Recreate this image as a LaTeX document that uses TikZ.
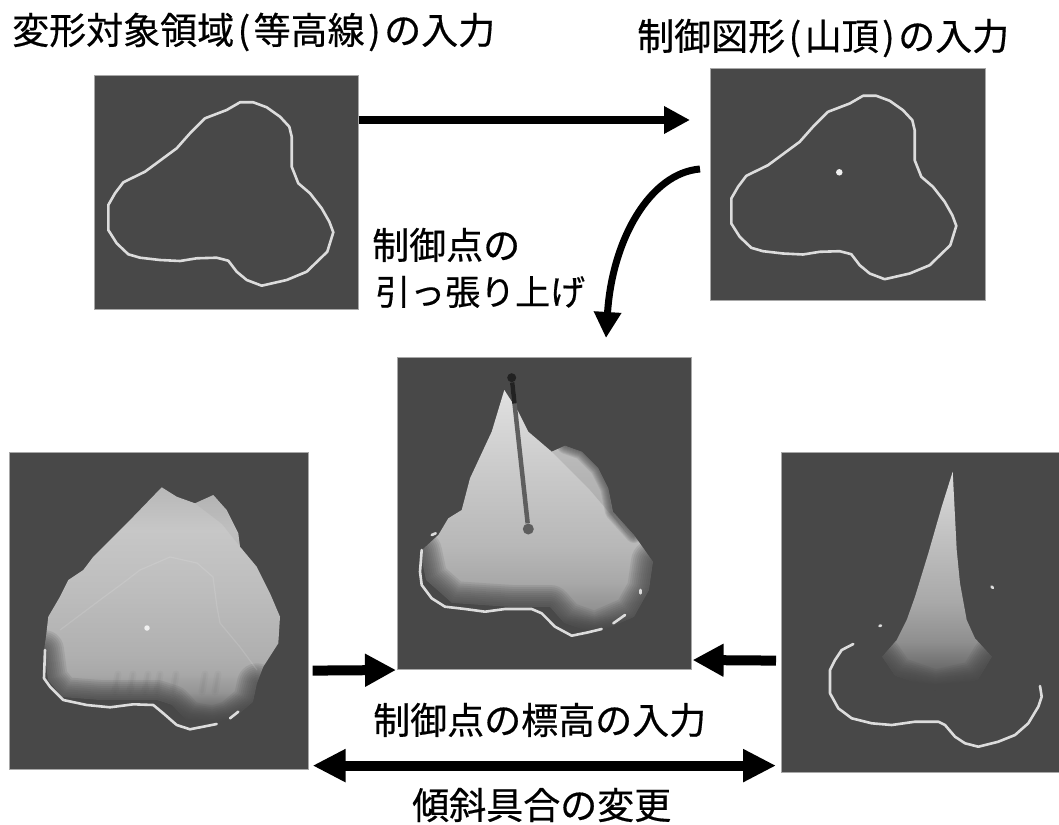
\documentclass[tikz,border=0pt]{standalone}
\usepackage{fontspec}
\newfontfamily\cjk[FakeBold=0.5]{Noto Sans CJK JP}
\usetikzlibrary{positioning,arrows.meta,calc}
\definecolor{panelgray}{HTML}{484848}
\definecolor{panelrim}{HTML}{A8A8A8}
\definecolor{linegray}{HTML}{DCDCDC}
\definecolor{dotwhite}{HTML}{F0F0F0}
\definecolor{rodgray}{HTML}{5E5E5E}
\definecolor{rodtip}{HTML}{222222}
\pgfdeclareverticalshading{pullshade}{100bp}{gray(0bp)=(.28); gray(25bp)=(.28); gray(29bp)=(.55); gray(35.6bp)=(.66); gray(43bp)=(.72); gray(58bp)=(.79); gray(75bp)=(.88); gray(100bp)=(.88)}
\pgfdeclareverticalshading{flatshade}{100bp}{gray(0bp)=(.28); gray(25bp)=(.28); gray(28.6bp)=(.42); gray(32bp)=(.58); gray(36bp)=(.66); gray(40bp)=(.69); gray(53bp)=(.74); gray(66bp)=(.78); gray(75bp)=(.72); gray(100bp)=(.72)}
\pgfdeclareverticalshading{sharpshade}{100bp}{gray(0bp)=(.28); gray(25bp)=(.28); gray(30bp)=(.42); gray(36bp)=(.56); gray(45bp)=(.66); gray(59bp)=(.75); gray(75bp)=(.86); gray(100bp)=(.86)}
% Closed outline, taken from the first panel
\newcommand{\outlinepath}{(240,102.3) -- (253.3,102.3) -- (266.7,107.3) -- (280,116.7) -- (289.3,126.7) -- (291.7,136.7) -- (291.7,166.7) -- (298.3,183.3) -- (310,193.3) -- (321.7,208.3) -- (329.3,221.7) -- (333.3,232.3) -- (327.3,251.7) -- (306.7,271.7) -- (286.7,280) -- (261.7,285.7) -- (246.7,280) -- (236.7,271.7) -- (228.3,260.7) -- (216.7,257.7) -- (196.7,258.3) -- (180,261) -- (160,260) -- (140,257.7) -- (128.3,254.3) -- (116.7,243.3) -- (108.3,230) -- (108.3,205) -- (115,193.3) -- (123.3,182.3) -- (145,171.7) -- (176.7,148.3) -- (190,133.3) -- (205,118.3) -- (226.7,110) -- cycle}
\tikzset{
  panel/.style={fill=panelgray, draw=panelrim, line width=0.6pt, inner sep=0pt, anchor=north west},
  contour/.style={draw=linegray, line width=2.6pt, line join=round, line cap=round},
  soften/.style={panelgray, opacity=.12, line join=round, line cap=round},
  label/.style={font=\cjk\fontsize{37}{46}\selectfont, inner sep=0pt, anchor=base west},
  thinarrow/.style={line width=7pt, -{Stealth[length=26pt, width=26pt, inset=0pt]}},
  fatarrow/.style={line width=10pt, -{Stealth[length=31pt, width=31pt, inset=0pt]}},
  dot/.style={circle, fill=dotwhite, inner sep=0pt, minimum size=#1}
}

\begin{document}
\begin{tikzpicture}[x=1pt, y=-1pt]
  \useasboundingbox (0,0) rectangle (1059,824);

  % Panels
  \node[panel, minimum width=264pt, minimum height=234pt] (outline) at (94,75) {};
  \node[panel, minimum width=275pt, minimum height=232pt] (summit) at (710,68) {};
  \node[panel, minimum width=294pt, minimum height=312pt] (pulled) at (397,357) {};
  \node[panel, minimum width=299pt, minimum height=317pt] (gentle) at (9,452) {};
  \node[panel, minimum width=278pt, minimum height=320pt] (steep) at (781,452) {};

  % Outline inputs
  \draw[contour] \outlinepath;
  \draw[contour, shift={(623,-6.5)}] \outlinepath;
  \node[dot=6.5pt] (peakdot) at (839.3,172.3) {};

  % Pulled surface
  \shade[shading=pullshade] (504.3,390) -- (491.7,431.7) -- (470,478.3) -- (461.7,510) -- (448.3,518.3) -- (438.3,535) -- (420,551.7) -- (426,580) -- (452,603) -- (511.7,607) -- (550,607) -- (564,623) -- (595,634) -- (634,617) -- (649,590) -- (653,561.7) -- (634,535) -- (613,511.7) -- (608.3,488.3) -- (598.3,468.3) -- (581.7,451.7) -- (565,445.7) -- (551.7,451.7) -- (528.3,431.7) -- (518.3,411.7) -- cycle;
  \fill[panelgray, opacity=.15] (551.7,451.7) -- (565,445.7) -- (581.7,451.7) -- (598.3,468.3) -- (608.3,488.3) -- (611.7,511.7) -- (628.3,535) -- (590,490) -- cycle;
  \foreach \w in {4,8,...,44}
    \draw[soften, line width=\w pt] (420,551.7) -- (426,580) -- (452,603) -- (511.7,607) -- (550,607) -- (564,623) -- (595,634) -- (634,617) -- (649,590) -- (653,561.7);
  \foreach \w in {2,4,...,16}
    \draw[soften, line width=\w pt] (634,535) -- (613,511.7) -- (608.3,488.3) -- (598.3,468.3) -- (581.7,451.7) -- (565,445.7);
  \draw[contour] (421.7,550) -- (420,571.7) -- (421.7,585) -- (431.7,598.3) -- (445,606.7) -- (465,609) -- (485,611.7) -- (505,609) -- (531.7,609) -- (541.7,613.3) -- (555,626.7) -- (571.7,635.7) -- (588.3,632.3) -- (601.7,629);
  \draw[contour] (613.3,623.3) -- (625,615);
  \draw[contour] (640.7,590) -- (640.7,593.3);
  \draw[contour] (431.7,535) -- (435.7,533.3);
  \node[circle, fill=rodtip, inner sep=0pt, minimum size=9pt] (rodtop) at (511.7,377.7) {};
  \node[circle, fill=rodgray, inner sep=0pt, minimum size=11pt] (rodbase) at (528.3,529) {};
  \draw[rodgray, line width=4.5pt] (rodtop) -- (rodbase);
  \draw[rodtip, line width=4.5pt] (rodtop) -- ($(rodtop)!.17!(rodbase)$);

  % Gentle surface
  \shade[shading=flatshade] (161.7,487.3) -- (133.3,516.7) -- (116.7,533.3) -- (93.3,556.7) -- (83.3,570) -- (68.3,580) -- (60,596.7) -- (48.3,616.7) -- (46,636.7) -- (44,650) -- (48,680) -- (62,697) -- (100,700) -- (156.7,700) -- (172,705) -- (186.7,721) -- (213.3,726) -- (232,720) -- (253,702) -- (257,683.3) -- (263.3,666.7) -- (278.3,643.3) -- (280,616.7) -- (270,593.3) -- (256.7,566.7) -- (240,546.7) -- (238.3,533.3) -- (226.7,510) -- (213.3,495) -- (195,503.3) -- (176.7,496.7) -- cycle;
  \fill[panelgray, opacity=.06] (195,503.3) -- (213.3,495) -- (226.7,510) -- (238.3,533.3) -- (240,546.7) -- (222,524) -- cycle;
  \foreach \x in {118,133,148,160,176,205,218} {
    \draw[panelgray, line width=7pt, opacity=.04, line cap=round] (\x,674) -- (\x-3,692);
    \draw[panelgray, line width=3pt, opacity=.05, line cap=round] (\x,674) -- (\x-3,692);
  }
  \foreach \w in {4,8,...,40}
    \draw[soften, line width=\w pt] (44,650) -- (48,680) -- (62,697) -- (100,700) -- (156.7,700) -- (172,705) -- (186.7,721) -- (213.3,726) -- (232,720) -- (253,702) -- (257,683.3);
  \draw[white, line width=1.2pt, opacity=.12, line join=round] (60,630) -- (100,600) -- (123,583) -- (140,570) -- (170,557) -- (197,563) -- (213,577) -- (217,607) -- (220,623) -- (240,647) -- (257,670);
  \node[dot=5.5pt] (basedot) at (147,628) {};
  \draw[contour] (45,650) -- (44,678.3) -- (50,686.7) -- (63.3,700) -- (86.7,705) -- (110,707.3) -- (133.3,704.3) -- (153.3,705) -- (163.3,713.3) -- (176.7,725) -- (190,729.3) -- (216.7,724);
  \draw[contour] (230,718.3) -- (238.3,711.7);

  % Steep surface
  \shade[shading=sharpshade] (952.7,471.7) -- (941.7,506.7) -- (928.3,553.3) -- (915,596.7) -- (906.7,620) -- (896.7,640) -- (882,656.7) -- (895,676) -- (935,690) -- (978,680) -- (992,656.7) -- (975,638.3) -- (966.7,620) -- (960,583.3) -- (956.7,550) -- cycle;
  \foreach \w in {4,8,...,40}
    \draw[soften, line width=\w pt] (882,656.7) -- (895,676) -- (935,690) -- (978,680) -- (992,656.7);
  \draw[contour] (853.3,644) -- (841.7,650) -- (835,660) -- (830,670) -- (830,693.3) -- (838.3,708.3) -- (851.7,718.3) -- (871.7,723.3) -- (891.7,725) -- (915,721.7) -- (938.3,721.7) -- (945,725) -- (955,736.7) -- (965,743.3) -- (978.3,746.7) -- (998.3,741.7) -- (1015,735) -- (1028.3,723.3) -- (1038.3,706.7) -- (1041.7,696.7) -- (1040,686);
  \draw[contour] (991.5,586.5) -- (993,588);
  \draw[contour] (879.5,626) -- (881,625.5);

  % Arrows
  \draw[thinarrow] ([yshift=-45pt]outline.north east) -- ([xshift=-20pt, yshift=-52pt]summit.north west);
  \draw[thinarrow] ([xshift=-10pt, yshift=-101pt]summit.north west) .. controls +(-50,4) and +(6,-98) .. ([xshift=209pt, yshift=19pt]pulled.north west);
  \draw[fatarrow] ([xshift=4pt, yshift=99pt]gentle.south east) -- ([xshift=-1pt]pulled.south west |- 0,670);
  \draw[fatarrow] ([xshift=-5pt, yshift=112pt]steep.south west) -- ([xshift=1pt]pulled.south east |- 0,660);
  \draw[fatarrow, {Stealth[length=33pt, width=31pt, inset=0pt]}-{Stealth[length=33pt, width=31pt, inset=0pt]}] ([xshift=4pt, yshift=4pt]gentle.south east) -- ([xshift=-5pt, yshift=7pt]steep.south west);

  % Labels
  \node[label] (areatitle) at (12,44) {変形対象領域\hspace{3.5pt}(\hspace{3.5pt}等高線\hspace{3.5pt})\hspace{3.5pt}の入力};
  \node[label] (summittitle) at (637,50) {制御図形\hspace{3.5pt}(\hspace{3.5pt}山頂\hspace{3.5pt})\hspace{3.5pt}の入力};
  \node[label] (pulltext) at (372,259) {制御点の};
  \node[label, font=\cjk\fontsize{35}{46}\selectfont] (pulltextb) at (375,305) {引っ張り上げ};
  \node[label] (heighttext) at (373,734) {制御点の標高の入力};
  \node[label] (slopetext) at (412,819) {傾斜具合の変更};
\end{tikzpicture}
\end{document}
